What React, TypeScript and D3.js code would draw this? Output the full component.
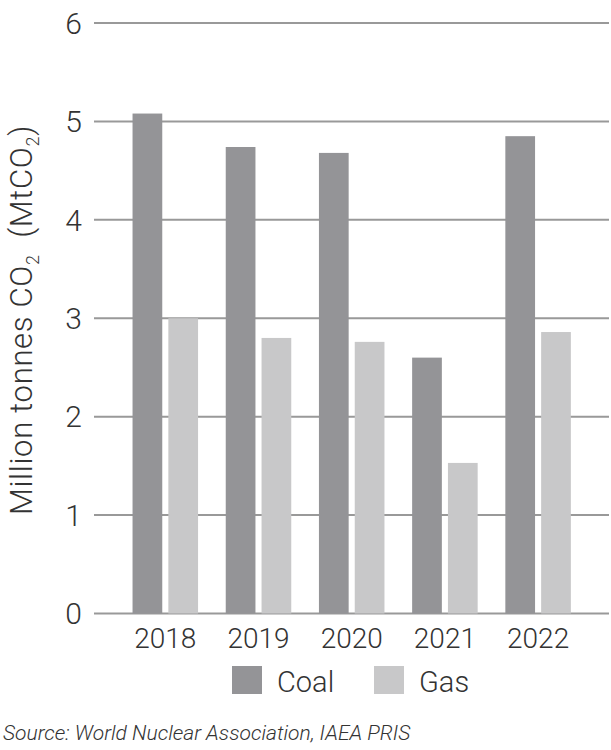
import React, { useRef, useEffect } from 'react';
import * as d3 from 'd3';

const years = ['2018', '2019', '2020', '2021', '2022'];
const series = ['Coal', 'Gas'];
const coal = [5.08, 4.74, 4.68, 2.6, 4.85];
const gas = [3.0, 2.8, 2.76, 1.53, 2.86];
const yTicks = [0, 1, 2, 3, 4, 5, 6];
const colors = ['#949497', '#c8c8c9'];

const FONT = 'Roboto, "Liberation Sans", sans-serif';

const App = () => {
  const svgRef = useRef<SVGSVGElement>(null);
  const width = 611;
  const height = 750;

  useEffect(() => {
    const svg = d3.select(svgRef.current);
    svg.selectAll('*').remove();

    const y = d3.scaleLinear().domain([0, 6]).range([613.5, 23]);
    const x0 = d3.scaleBand().domain(years).range([118.7, 584.7]).paddingInner(0.297).paddingOuter(0.1485);
    const x1 = d3.scaleBand().domain(series).range([0, x0.bandwidth()]).paddingInner(0.17);
    const color = d3.scaleOrdinal<string, string>().domain(series).range(colors);

    // gridlines
    svg.append('g')
      .selectAll('line')
      .data(yTicks)
      .enter()
      .append('line')
      .attr('x1', 94)
      .attr('x2', 609)
      .attr('y1', (d) => y(d))
      .attr('y2', (d) => y(d))
      .attr('stroke', '#999999')
      .attr('stroke-width', 2);

    // y tick labels
    svg.append('g')
      .selectAll('text')
      .data(yTicks)
      .enter()
      .append('text')
      .attr('x', 82)
      .attr('y', (d) => y(d))
      .attr('dy', '0.36em')
      .attr('text-anchor', 'end')
      .attr('font-family', FONT)
      .attr('font-weight', 300)
      .attr('font-size', 30)
      .attr('fill', '#333')
      .text((d) => d);

    const rows = years.map((yr, i) => ({ year: yr, values: [coal[i], gas[i]] }));

    const groups = svg.append('g')
      .selectAll('g')
      .data(rows)
      .enter()
      .append('g')
      .attr('transform', (d) => `translate(${x0(d.year)},0)`);

    groups.selectAll('rect')
      .data((d) => d.values.map((v, j) => ({ key: series[j], value: v })))
      .enter()
      .append('rect')
      .attr('x', (d) => x1(d.key)!)
      .attr('width', x1.bandwidth())
      .attr('y', (d) => y(d.value))
      .attr('height', (d) => y(0) - y(d.value))
      .attr('fill', (d) => color(d.key));

    // x labels
    svg.append('g')
      .selectAll('text')
      .data(years)
      .enter()
      .append('text')
      .attr('x', (d) => x0(d)! + x0.bandwidth() / 2)
      .attr('y', 648)
      .attr('text-anchor', 'middle')
      .attr('font-family', FONT)
      .attr('font-weight', 300)
      .attr('font-size', 28)
      .attr('fill', '#333')
      .text((d) => d);

    // legend
    const legendX = [232, 374];
    const legend = svg.append('g')
      .selectAll('g')
      .data(series)
      .enter()
      .append('g')
      .attr('transform', (d, i) => `translate(${legendX[i]},666)`);
    legend.append('rect')
      .attr('width', 30)
      .attr('height', 28)
      .attr('fill', (d) => color(d));
    legend.append('text')
      .attr('x', 45)
      .attr('y', 26)
      .attr('font-family', FONT)
      .attr('font-weight', 300)
      .attr('font-size', 29)
      .attr('fill', '#333')
      .text((d) => d);

    // y axis title
    const title = svg.append('text')
      .attr('transform', 'translate(32,320) rotate(-90)')
      .attr('text-anchor', 'middle')
      .attr('font-family', FONT)
      .attr('font-weight', 300)
      .attr('font-size', 31)
      .attr('letter-spacing', 0.7)
      .attr('fill', '#333');
    title.append('tspan').text('Million tonnes CO');
    title.append('tspan').attr('font-size', 18).attr('dy', 7).text('2');
    title.append('tspan').attr('dy', -7).text('\u00a0 (MtCO');
    title.append('tspan').attr('font-size', 18).attr('dy', 7).text('2');
    title.append('tspan').attr('dy', -7).text(')');

    // source
    svg.append('text')
      .attr('x', 3)
      .attr('y', 740)
      .attr('font-family', FONT)
      .attr('font-weight', 300)
      .attr('font-style', 'italic')
      .attr('font-size', 21)
      .attr('fill', '#333')
      .text('Source: World Nuclear Association, IAEA PRIS');
  }, []);

  return (
    <div style={{ position: 'absolute', left: 0, top: 0 }}>
      <svg ref={svgRef} width={width} height={height} style={{ display: 'block' }}></svg>
    </div>
  );
};

export default App;
